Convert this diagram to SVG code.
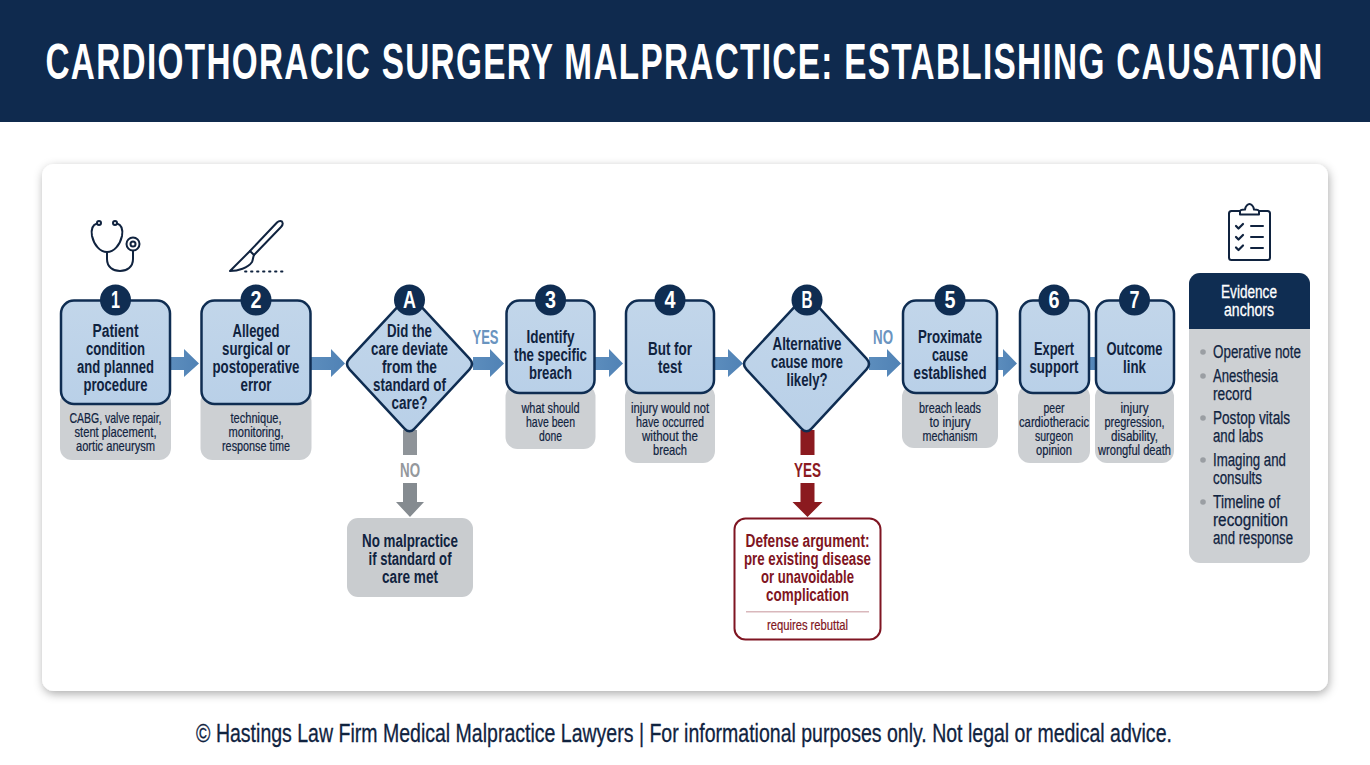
<svg xmlns="http://www.w3.org/2000/svg" width="1370" height="765" viewBox="0 0 1370 765">
<style>
text{font-family:"Liberation Sans",Arial,sans-serif;text-anchor:middle;fill:#10233f}
.m{font-size:18px;font-weight:700}
.s{font-size:14.500px;stroke:#10233f;stroke-width:.2px}
.box{fill:url(#bl);stroke:#0f2d52;stroke-width:2.500}
.sub{fill:#cdd0d3}
.badge{fill:#0f2d52}
.bt{font-size:23px;font-weight:700;fill:#fff}
.arr{fill:url(#ar)}
.ic{fill:none;stroke:#10233f;stroke-width:2;stroke-linecap:round;stroke-linejoin:round}
.l{font-size:20px;font-weight:700}
.li{font-size:18px;text-anchor:start;stroke:#10233f;stroke-width:.25px}
.bu{fill:#9a9ea3}
.red{fill:#7f1522}
.s.red{stroke:#7f1522}
.ht{font-size:18px;fill:#fff;stroke:#fff;stroke-width:.3px}
</style>
<defs>
<linearGradient id="bl" x1="0" y1="0" x2="0" y2="1"><stop offset="0" stop-color="#c2d6ea"/><stop offset="1" stop-color="#b9d0e8"/></linearGradient>
<linearGradient id="ar" x1="0" y1="0" x2="1" y2="0"><stop offset="0" stop-color="#5c8dbd"/><stop offset="1" stop-color="#5082b5"/></linearGradient>
<filter id="sh" x="-5%" y="-5%" width="110%" height="112%"><feDropShadow dx="1" dy="3" stdDeviation="5" flood-color="#000" flood-opacity=".32"/></filter>
<path id="dia" class="box" d="M-5 -64.600Q0 -70 5 -64.600L60 -5.400Q65 0 60 5.400L5 64.600Q0 70 -5 64.600L-60 5.400Q-65 0 -60 -5.400Z"/>
</defs>
<rect width="1370" height="765" fill="#fff"/>
<g id="header"><rect width="1370" height="122" fill="#0f2a4e"/>
<text transform="translate(684.500 79) scale(.685 1)" font-size="50" font-weight="700" style="fill:#fff;letter-spacing:2px" textLength="1866" lengthAdjust="spacingAndGlyphs">CARDIOTHORACIC SURGERY MALPRACTICE: ESTABLISHING CAUSATION</text></g>
<rect id="card" x="42" y="164" width="1286" height="527" rx="12" fill="#fff" filter="url(#sh)"/>

<g id="connectors">
<path class="arr" d="M171 357H184V349L199 363.500L184 377V370H171Z"/>
<path class="arr" d="M311 357H331V349L345 363.500L331 377V370H311Z"/>
<path class="arr" d="M473 357H490V349L504 363.500L490 377V370H473Z"/>
<path class="arr" d="M595 357H609V349L623 363.500L609 377V370H595Z"/>
<path class="arr" d="M714 357H728V349L743 363.500L728 377V370H714Z"/>
<path class="arr" d="M869 357H887V349L901 363.500L887 377V370H869Z"/>
<path class="arr" d="M997 357H1003V349L1017 363.500L1003 377V370H997Z"/>
<rect class="arr" x="1088" y="357" width="8" height="13"/>
<rect x="403" y="430" width="14" height="25" fill="#8f9499"/>
<path d="M403 483H417V502H424L410 517L396 502H403Z" fill="#858b90"/>
<rect x="800.500" y="430" width="14" height="25" fill="#8b1a1f"/>
<path d="M800.500 483H814.500V502H822.500L807.500 517L792.500 502H800.500Z" fill="#8b1a1f"/>
<text class="l" x="485.500" y="344" style="fill:#6a94bf" textLength="26" lengthAdjust="spacingAndGlyphs">YES</text>
<text class="l" x="883" y="344" style="fill:#6a94bf" textLength="20" lengthAdjust="spacingAndGlyphs">NO</text>
<text class="l" x="410" y="477" style="fill:#94989c" textLength="20" lengthAdjust="spacingAndGlyphs">NO</text>
<text class="l" x="807.500" y="477" style="fill:#8b1a1f" textLength="27" lengthAdjust="spacingAndGlyphs">YES</text>
</g>

<g id="icon-stethoscope" class="ic">
<path d="M97 223.500C92 225 91 230 92 236C94 245 100 252 107 252C114 252 120 245 122 236C123 230 122 225 117 223.500"/>
<circle cx="99" cy="223" r="2"/><circle cx="115" cy="223" r="2"/>
<path d="M107 252V259C107 267 113 271 120 271C127 271 133 267 133 259V251"/>
<circle cx="133" cy="244" r="6.500"/><circle cx="133" cy="244" r="2.500"/>
</g>
<g id="icon-scalpel" class="ic">
<path d="M250 251L277 222.500C279 220.500 282 220.500 282.500 222.500C283 224 282.500 225.500 281 227L254 255Z"/>
<path d="M250 251L230 271C238 271 248 268 252 262C253 260 253 257 254 255"/>
<path d="M245 271.500H283" stroke-width="1.800" stroke-dasharray="1.500 4.500"/>
</g>
<g id="icon-clipboard" class="ic">
<rect x="1229" y="211" width="41" height="49" rx="2.500"/>
<path d="M1240 214.500V211.500C1240 210 1241 209.500 1245 209.500C1245.500 206 1248 204 1249.500 204C1251 204 1253.500 206 1254 209.500C1258 209.500 1259 210 1259 211.500V214.500Z" fill="#fff"/>
<path d="M1236 226L1238.500 228.500L1243 224M1236 237L1238.500 239.500L1243 235M1236 247.500L1238.500 250L1243 245.500" stroke-width="2.200"/>
<path d="M1251 226H1263M1251 237H1263M1251 248H1263"/>
</g>

<g id="node-1"><rect class="sub" x="60" y="390" width="111" height="70" rx="12"/><rect class="box" x="61" y="300.500" width="109" height="103.500" rx="13"/>
<circle class="badge" cx="115.500" cy="300" r="15.500"/><text class="bt" x="115.500" y="308" textLength="9" lengthAdjust="spacingAndGlyphs">1</text>
<text class="m" x="115.500" y="337" textLength="46" lengthAdjust="spacingAndGlyphs">Patient</text>
<text class="m" x="115.500" y="355" textLength="59" lengthAdjust="spacingAndGlyphs">condition</text>
<text class="m" x="115.500" y="373" textLength="77" lengthAdjust="spacingAndGlyphs">and planned</text>
<text class="m" x="115.500" y="391" textLength="64" lengthAdjust="spacingAndGlyphs">procedure</text>
<text class="s" x="115.500" y="423" textLength="92" lengthAdjust="spacingAndGlyphs">CABG, valve repair,</text>
<text class="s" x="115.500" y="437" textLength="82" lengthAdjust="spacingAndGlyphs">stent placement,</text>
<text class="s" x="115.500" y="451" textLength="79" lengthAdjust="spacingAndGlyphs">aortic aneurysm</text></g>

<g id="node-2"><rect class="sub" x="200.500" y="390" width="111" height="70" rx="12"/><rect class="box" x="201.500" y="300.500" width="109" height="103.500" rx="13"/>
<circle class="badge" cx="256" cy="300" r="15.500"/><text class="bt" x="256" y="308" textLength="11" lengthAdjust="spacingAndGlyphs">2</text>
<text class="m" x="256" y="337" textLength="47" lengthAdjust="spacingAndGlyphs">Alleged</text>
<text class="m" x="256" y="355" textLength="68" lengthAdjust="spacingAndGlyphs">surgical or</text>
<text class="m" x="256" y="373" textLength="87" lengthAdjust="spacingAndGlyphs">postoperative</text>
<text class="m" x="256" y="391" textLength="31" lengthAdjust="spacingAndGlyphs">error</text>
<text class="s" x="256" y="423" textLength="51" lengthAdjust="spacingAndGlyphs">technique,</text>
<text class="s" x="256" y="437" textLength="55" lengthAdjust="spacingAndGlyphs">monitoring,</text>
<text class="s" x="256" y="451" textLength="68" lengthAdjust="spacingAndGlyphs">response time</text></g>

<g id="node-A"><use href="#dia" x="409.500" y="364"/>
<circle class="badge" cx="409.500" cy="300" r="15.500"/><text class="bt" x="409.500" y="308" textLength="13" lengthAdjust="spacingAndGlyphs">A</text>
<text class="m" x="409.500" y="337" textLength="45" lengthAdjust="spacingAndGlyphs">Did the</text>
<text class="m" x="409.500" y="355" textLength="77" lengthAdjust="spacingAndGlyphs">care deviate</text>
<text class="m" x="409.500" y="373" textLength="55" lengthAdjust="spacingAndGlyphs">from the</text>
<text class="m" x="409.500" y="390.500" textLength="73" lengthAdjust="spacingAndGlyphs">standard of</text>
<text class="m" x="409.500" y="408.500" textLength="36" lengthAdjust="spacingAndGlyphs">care?</text></g>

<g id="node-no-malpractice"><rect x="347" y="518" width="126" height="79" rx="11" fill="#c9cccf"/>
<text class="m" x="410" y="547" textLength="96" lengthAdjust="spacingAndGlyphs">No malpractice</text>
<text class="m" x="410" y="565" textLength="83" lengthAdjust="spacingAndGlyphs">if standard of</text>
<text class="m" x="410" y="583" textLength="56" lengthAdjust="spacingAndGlyphs">care met</text></g>

<g id="node-3"><rect class="sub" x="505.500" y="385" width="90" height="64" rx="12"/><rect class="box" x="506.500" y="300.500" width="88" height="92.500" rx="13"/>
<circle class="badge" cx="550.500" cy="300" r="15.500"/><text class="bt" x="550.500" y="308" textLength="11" lengthAdjust="spacingAndGlyphs">3</text>
<text class="m" x="550.500" y="343" textLength="48" lengthAdjust="spacingAndGlyphs">Identify</text>
<text class="m" x="550.500" y="361" textLength="73" lengthAdjust="spacingAndGlyphs">the specific</text>
<text class="m" x="550.500" y="379" textLength="43" lengthAdjust="spacingAndGlyphs">breach</text>
<text class="s" x="550.500" y="413" textLength="58" lengthAdjust="spacingAndGlyphs">what should</text>
<text class="s" x="550.500" y="427" textLength="49" lengthAdjust="spacingAndGlyphs">have been</text>
<text class="s" x="550.500" y="441" textLength="23" lengthAdjust="spacingAndGlyphs">done</text></g>

<g id="node-4"><rect class="sub" x="625" y="385" width="90" height="78" rx="12"/><rect class="box" x="626" y="300.500" width="88" height="92.500" rx="13"/>
<circle class="badge" cx="670" cy="300" r="15.500"/><text class="bt" x="670" y="308" textLength="11" lengthAdjust="spacingAndGlyphs">4</text>
<text class="m" x="670" y="355" textLength="44" lengthAdjust="spacingAndGlyphs">But for</text>
<text class="m" x="670" y="373" textLength="24" lengthAdjust="spacingAndGlyphs">test</text>
<text class="s" x="670" y="413" textLength="78" lengthAdjust="spacingAndGlyphs">injury would not</text>
<text class="s" x="670" y="427" textLength="68" lengthAdjust="spacingAndGlyphs">have occurred</text>
<text class="s" x="670" y="441" textLength="56" lengthAdjust="spacingAndGlyphs">without the</text>
<text class="s" x="670" y="455" textLength="34" lengthAdjust="spacingAndGlyphs">breach</text></g>

<g id="node-B"><use href="#dia" x="806.500" y="364"/>
<circle class="badge" cx="807" cy="300" r="15.500"/><text class="bt" x="807" y="308" textLength="11" lengthAdjust="spacingAndGlyphs">B</text>
<text class="m" x="807" y="350" textLength="69" lengthAdjust="spacingAndGlyphs">Alternative</text>
<text class="m" x="807" y="368" textLength="72" lengthAdjust="spacingAndGlyphs">cause more</text>
<text class="m" x="807" y="386" textLength="41" lengthAdjust="spacingAndGlyphs">likely?</text></g>

<g id="node-defense"><rect x="734.500" y="518.500" width="146" height="121" rx="11" fill="#fff" stroke="#7f1522" stroke-width="2"/>
<text class="m red" x="807.500" y="547" textLength="124" lengthAdjust="spacingAndGlyphs">Defense argument:</text>
<text class="m red" x="807.500" y="565" textLength="127" lengthAdjust="spacingAndGlyphs">pre existing disease</text>
<text class="m red" x="807.500" y="583" textLength="93" lengthAdjust="spacingAndGlyphs">or unavoidable</text>
<text class="m red" x="807.500" y="601" textLength="83" lengthAdjust="spacingAndGlyphs">complication</text>
<rect x="746" y="611" width="123" height="1.500" fill="#d9b8bc"/>
<text class="s red" x="807.500" y="630" textLength="81" lengthAdjust="spacingAndGlyphs">requires rebuttal</text></g>

<g id="node-5"><rect class="sub" x="902" y="385" width="96" height="63" rx="12"/><rect class="box" x="903" y="300.500" width="94" height="92.500" rx="13"/>
<circle class="badge" cx="950" cy="300" r="15.500"/><text class="bt" x="950" y="308" textLength="11" lengthAdjust="spacingAndGlyphs">5</text>
<text class="m" x="950" y="343" textLength="64" lengthAdjust="spacingAndGlyphs">Proximate</text>
<text class="m" x="950" y="361" textLength="36" lengthAdjust="spacingAndGlyphs">cause</text>
<text class="m" x="950" y="379" textLength="73" lengthAdjust="spacingAndGlyphs">established</text>
<text class="s" x="950" y="413" textLength="62" lengthAdjust="spacingAndGlyphs">breach leads</text>
<text class="s" x="950" y="427" textLength="41" lengthAdjust="spacingAndGlyphs">to injury</text>
<text class="s" x="950" y="441" textLength="55" lengthAdjust="spacingAndGlyphs">mechanism</text></g>

<g id="node-6"><rect class="sub" x="1018" y="385" width="72" height="78" rx="12"/><rect class="box" x="1020" y="300.500" width="69" height="92.500" rx="13"/>
<circle class="badge" cx="1054" cy="300" r="15.500"/><text class="bt" x="1054" y="308" textLength="11" lengthAdjust="spacingAndGlyphs">6</text>
<text class="m" x="1054" y="355" textLength="40" lengthAdjust="spacingAndGlyphs">Expert</text>
<text class="m" x="1054" y="373" textLength="49" lengthAdjust="spacingAndGlyphs">support</text>
<text class="s" x="1054" y="413" textLength="21" lengthAdjust="spacingAndGlyphs">peer</text>
<text class="s" x="1054" y="427" textLength="70" lengthAdjust="spacingAndGlyphs">cardiotheracic</text>
<text class="s" x="1054" y="441" textLength="38" lengthAdjust="spacingAndGlyphs">surgeon</text>
<text class="s" x="1054" y="455" textLength="36" lengthAdjust="spacingAndGlyphs">opinion</text></g>

<g id="node-7"><rect class="sub" x="1095" y="385" width="79" height="78" rx="12"/><rect class="box" x="1096" y="300.500" width="78" height="92.500" rx="13"/>
<circle class="badge" cx="1134.500" cy="300" r="15.500"/><text class="bt" x="1134.500" y="308" textLength="10" lengthAdjust="spacingAndGlyphs">7</text>
<text class="m" x="1134.500" y="355" textLength="56" lengthAdjust="spacingAndGlyphs">Outcome</text>
<text class="m" x="1134.500" y="373" textLength="23" lengthAdjust="spacingAndGlyphs">link</text>
<text class="s" x="1134.500" y="413" textLength="28" lengthAdjust="spacingAndGlyphs">injury</text>
<text class="s" x="1134.500" y="427" textLength="60" lengthAdjust="spacingAndGlyphs">pregression,</text>
<text class="s" x="1134.500" y="441" textLength="47" lengthAdjust="spacingAndGlyphs">disability,</text>
<text class="s" x="1134.500" y="455" textLength="73" lengthAdjust="spacingAndGlyphs">wrongful death</text></g>

<g id="node-evidence"><rect x="1189" y="273" width="121" height="290" rx="11" fill="#cdd0d3"/>
<path d="M1189 329V284A11 11 0 0 1 1200 273H1299A11 11 0 0 1 1310 284V329Z" fill="#0f2d52"/>
<text class="ht" x="1249" y="298" textLength="56" lengthAdjust="spacingAndGlyphs">Evidence</text>
<text class="ht" x="1249" y="316" textLength="50" lengthAdjust="spacingAndGlyphs">anchors</text>
<circle class="bu" cx="1203" cy="352" r="2.800"/><circle class="bu" cx="1203" cy="376" r="2.800"/><circle class="bu" cx="1203" cy="418" r="2.800"/><circle class="bu" cx="1203" cy="460" r="2.800"/><circle class="bu" cx="1203" cy="502" r="2.800"/>
<text class="li" x="1213" y="358" textLength="88" lengthAdjust="spacingAndGlyphs">Operative note</text>
<text class="li" x="1213" y="382" textLength="65" lengthAdjust="spacingAndGlyphs">Anesthesia</text>
<text class="li" x="1213" y="400" textLength="39" lengthAdjust="spacingAndGlyphs">record</text>
<text class="li" x="1213" y="424" textLength="77" lengthAdjust="spacingAndGlyphs">Postop vitals</text>
<text class="li" x="1213" y="442" textLength="50" lengthAdjust="spacingAndGlyphs">and labs</text>
<text class="li" x="1213" y="466" textLength="73" lengthAdjust="spacingAndGlyphs">Imaging and</text>
<text class="li" x="1213" y="484" textLength="49" lengthAdjust="spacingAndGlyphs">consults</text>
<text class="li" x="1213" y="508" textLength="67" lengthAdjust="spacingAndGlyphs">Timeline of</text>
<text class="li" x="1213" y="526" textLength="75" lengthAdjust="spacingAndGlyphs">recognition</text>
<text class="li" x="1213" y="544" textLength="80" lengthAdjust="spacingAndGlyphs">and response</text></g>

<text id="footer" transform="translate(684 742) scale(.82 1)" font-size="25" style="stroke:#10233f;stroke-width:.3px" textLength="1190" lengthAdjust="spacingAndGlyphs">© Hastings Law Firm Medical Malpractice Lawyers | For informational purposes only. Not legal or medical advice.</text>
</svg>
